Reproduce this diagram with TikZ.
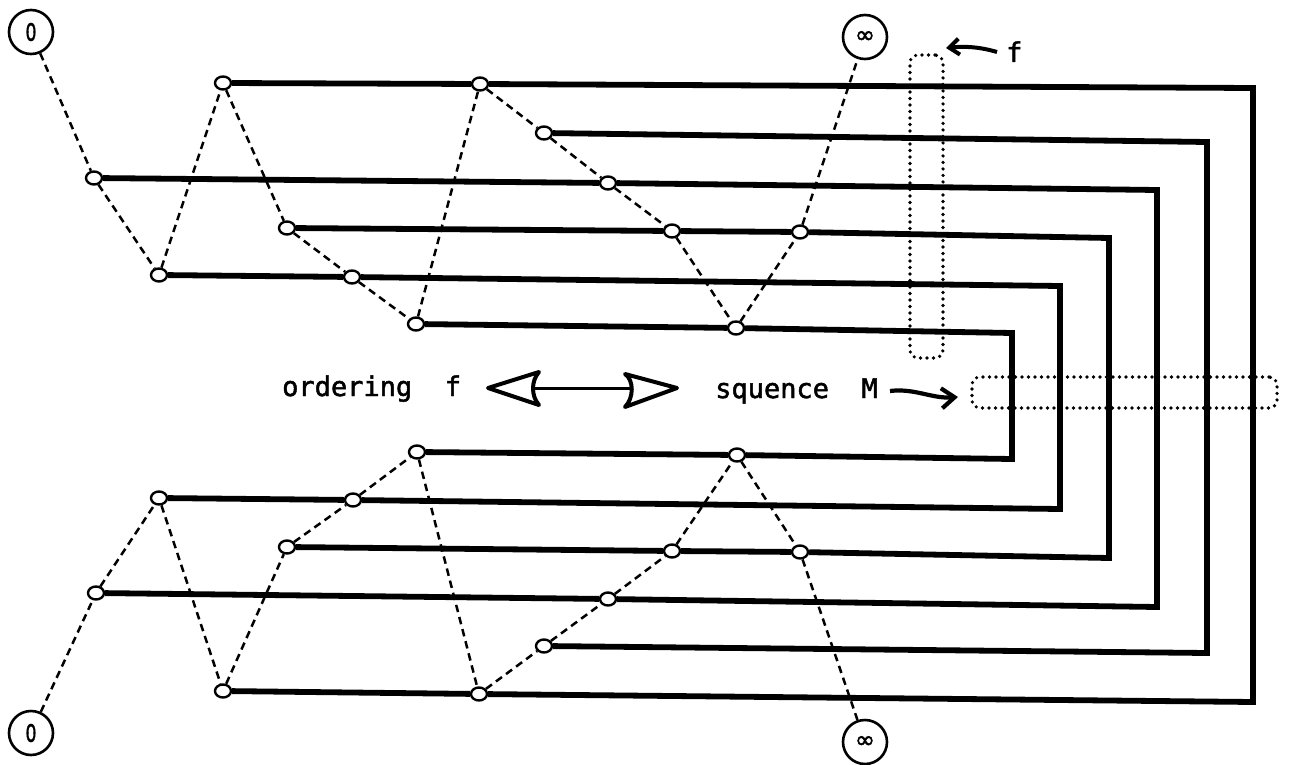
\documentclass[tikz,border=0pt]{standalone}
\usepackage{fontspec}
\usetikzlibrary{shapes.geometric,arrows.meta}
\newfontfamily\monof[FakeBold=1.8]{DejaVu Sans Mono}
\newfontfamily\dvs[FakeBold=1.8]{DejaVu Sans}
\tikzset{
  hole/.style={ellipse, draw, fill=white, line width=2.4pt, minimum width=16pt, minimum height=13pt, inner sep=0pt},
  endpt/.style={circle, draw, line width=2.6pt, minimum size=44pt, inner sep=0pt, font=\dvs\fontsize{24}{24}\selectfont},
  wire/.style={line width=5.8pt, line join=miter},
  link/.style={line width=2.5pt, dash pattern=on 7.5pt off 5pt},
  dotbox/.style={draw, rounded corners=8pt, line width=3.6pt, dash pattern=on 0pt off 6.5pt, line cap=round, inner sep=0pt},
  lbl/.style={font=\monof\fontsize{27}{27}\selectfont, inner sep=0pt, anchor=base west},
  headline/.style={line width=4pt, line join=round},
}
\begin{document}
\begin{tikzpicture}[x=1pt,y=-1pt]
\fill[white] (0,0) rectangle (1290,765);
\useasboundingbox (0,0) rectangle (1290,765);

% end circles
\node[endpt] (z0t) at (31,32) {\scalebox{0.72}[1]{0}};
\node[endpt] (zit) at (865,37) {∞};
\node[endpt] (z0b) at (31,733) {\scalebox{0.72}[1]{0}};
\node[endpt] (zib) at (865,742) {∞};

% top holes
\node[hole] (tC1) at (94,178) {};
\node[hole] (tE1) at (159,275) {};
\node[hole] (tA1) at (223,83) {};
\node[hole] (tD1) at (287,228) {};
\node[hole] (tE2) at (352,277) {};
\node[hole] (tF1) at (416,324) {};
\node[hole] (tA2) at (480,84) {};
\node[hole] (tB1) at (544,133) {};
\node[hole] (tC2) at (608,183) {};
\node[hole] (tD2) at (672,231) {};
\node[hole] (tF2) at (736,328) {};
\node[hole] (tD3) at (800,232) {};

% bottom holes
\node[hole] (bC1) at (96,593) {};
\node[hole] (bE1) at (159,498) {};
\node[hole] (bA1) at (223,691) {};
\node[hole] (bD1) at (287,547) {};
\node[hole] (bE2) at (353,500) {};
\node[hole] (bF1) at (417,452) {};
\node[hole] (bA2) at (479,694) {};
\node[hole] (bB1) at (544,646) {};
\node[hole] (bC2) at (608,599) {};
\node[hole] (bD2) at (672,551) {};
\node[hole] (bF2) at (737,455) {};
\node[hole] (bD3) at (800,552) {};

% corners
\coordinate (crA) at (1253,88);  \coordinate (brA) at (1253,702);
\coordinate (crB) at (1207,142); \coordinate (brB) at (1207,653);
\coordinate (crC) at (1157,190); \coordinate (brC) at (1157,607);
\coordinate (crD) at (1109,238); \coordinate (brD) at (1109,558);
\coordinate (crE) at (1060,286); \coordinate (brE) at (1060,509);
\coordinate (crF) at (1012,333); \coordinate (brF) at (1012,459);

% thick U-shaped wires
\draw[wire] (tA1) -- (tA2) -- (crA) -- (brA) -- (bA2) -- (bA1);
\draw[wire] (tB1) -- (crB) -- (brB) -- (bB1);
\draw[wire] (tC1) -- (tC2) -- (crC) -- (brC) -- (bC2) -- (bC1);
\draw[wire] (tD1) -- (tD2) -- (tD3) -- (crD) -- (brD) -- (bD3) -- (bD2) -- (bD1);
\draw[wire] (tE1) -- (tE2) -- (crE) -- (brE) -- (bE2) -- (bE1);
\draw[wire] (tF1) -- (tF2) -- (crF) -- (brF) -- (bF2) -- (bF1);

% dashed sequences
\draw[link] (z0t) -- (tC1) -- (tE1) -- (tA1) -- (tD1) -- (tE2) -- (tF1) -- (tA2) -- (tB1) -- (tC2) -- (tD2) -- (tF2) -- (tD3) -- (zit);
\draw[link] (z0b) -- (bC1) -- (bE1) -- (bA1) -- (bD1) -- (bE2) -- (bF1) -- (bA2) -- (bB1) -- (bC2) -- (bD2) -- (bF2) -- (bD3) -- (zib);

% dotted boxes
\node[dotbox, minimum width=33pt, minimum height=303pt] (vbox) at (926.5,206.5) {};
\node[dotbox, minimum width=305pt, minimum height=31pt] (hbox) at (1124.5,392.5) {};

% labels
\node[lbl] (ord) at (282,396) {ordering\ \ f};
\node[lbl] (seq) at (715,398) {squence\ \ M};
\node[lbl] (fl) at (1006,62) {f};

% double arrow
\coordinate (dl) at (488,388);
\coordinate (dr) at (677,388);
\draw[headline] (dl) -- (539,372) .. controls (531,381) and (531,396) .. (539,405) -- cycle;
\draw[line width=3pt] (533,388) -- (633,388);
\draw[headline] (dr) -- (625,407) .. controls (634,398) and (634,380) .. (625,374) -- cycle;

% M arrow
\coordinate (mA) at (890,391);
\coordinate (mB) at (958,397);
\draw[line width=4.2pt, -{Straight Barb[length=13pt,width=20pt]}] (mA) .. controls (915,388) and (932,399) .. (mB);

% f arrow
\coordinate (fA) at (997,52);
\coordinate (fB) at (946,48);
\draw[line width=4pt, -{Straight Barb[length=10pt,width=16pt]}] (fA) .. controls (980,47) and (965,46) .. (fB);
\end{tikzpicture}
\end{document}
